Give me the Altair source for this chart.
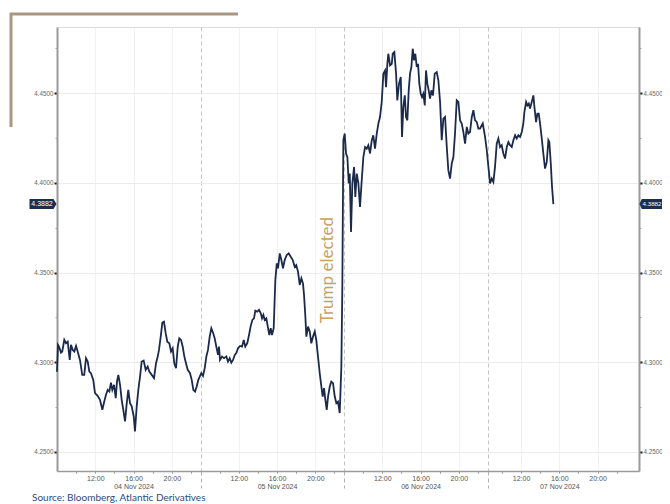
import altair as alt
import pandas as pd

# (trading-hour index, yield) pairs; hour 0 = 04 Nov 08:00, each session 15 h
session_04 = [
    (0.00, 4.2947), (0.10, 4.3097), (0.21, 4.3087), (0.42, 4.3054), (0.55, 4.3060), (0.76, 4.3125),
    (0.94, 4.3106), (1.12, 4.3115), (1.33, 4.3013), (1.46, 4.3097), (1.64, 4.3069), (1.81, 4.3060),
    (1.99, 4.3091), (2.16, 4.3060), (2.40, 4.3013), (2.64, 4.2930), (2.85, 4.2930), (3.03, 4.3023),
    (3.21, 4.3004), (3.38, 4.2948), (3.55, 4.2939), (3.79, 4.2902), (3.97, 4.2828), (4.25, 4.2813),
    (4.49, 4.2791), (4.74, 4.2735), (4.94, 4.2781), (5.12, 4.2819), (5.30, 4.2846), (5.47, 4.2837),
    (5.64, 4.2887), (5.78, 4.2846), (5.96, 4.2874), (6.14, 4.2800), (6.27, 4.2892), (6.41, 4.2930),
    (6.59, 4.2874), (6.76, 4.2791), (6.93, 4.2735), (7.11, 4.2670), (7.29, 4.2772), (7.45, 4.2846),
    (7.63, 4.2772), (7.81, 4.2754), (8.02, 4.2698), (8.15, 4.2614), (8.33, 4.2754), (8.50, 4.2846),
    (8.68, 4.2920), (8.85, 4.3004), (9.06, 4.3010), (9.27, 4.2958), (9.48, 4.2976), (9.65, 4.2948),
    (9.90, 4.2930), (10.14, 4.2912), (10.35, 4.2995), (10.53, 4.3032), (10.66, 4.3069), (10.84, 4.3143),
    (11.01, 4.3221), (11.18, 4.3226), (11.36, 4.3162), (11.53, 4.3115), (11.74, 4.3106), (11.92, 4.3060),
    (12.09, 4.3078), (12.26, 4.2995), (12.44, 4.2967), (12.62, 4.3087), (12.78, 4.3134), (12.96, 4.3125),
    (13.14, 4.3087), (13.31, 4.3032), (13.48, 4.2995), (13.66, 4.2958), (13.90, 4.2939), (14.08, 4.2902),
    (14.25, 4.2846), (14.43, 4.2837), (14.60, 4.2865), (14.77, 4.2902), (14.92, 4.2920),
]
session_05 = [
    (15.08, 4.2939), (15.26, 4.2924), (15.44, 4.2967), (15.61, 4.3032), (15.78, 4.3069), (15.96, 4.3143),
    (16.13, 4.3190), (16.31, 4.3165), (16.48, 4.3134), (16.65, 4.3087), (16.83, 4.3041), (16.93, 4.3087),
    (17.04, 4.3013), (17.25, 4.3032), (17.46, 4.3023), (17.70, 4.3032), (17.87, 4.3004), (18.05, 4.3023),
    (18.22, 4.2998), (18.40, 4.3013), (18.58, 4.3041), (18.74, 4.3051), (18.92, 4.3078), (19.13, 4.3091),
    (19.34, 4.3087), (19.52, 4.3125), (19.68, 4.3087), (19.89, 4.3106), (20.07, 4.3152), (20.25, 4.3203),
    (20.42, 4.3236), (20.59, 4.3245), (20.73, 4.3288), (20.94, 4.3282), (21.12, 4.3292), (21.30, 4.3273),
    (21.43, 4.3245), (21.57, 4.3264), (21.71, 4.3236), (21.88, 4.3245), (22.06, 4.3190), (22.19, 4.3152),
    (22.34, 4.3190), (22.47, 4.3152), (22.65, 4.3190), (22.82, 4.3459), (22.97, 4.3551), (23.10, 4.3524),
    (23.28, 4.3607), (23.45, 4.3570), (23.62, 4.3524), (23.80, 4.3570), (24.01, 4.3598), (24.22, 4.3607),
    (24.43, 4.3588), (24.64, 4.3570), (24.85, 4.3532), (25.01, 4.3542), (25.19, 4.3505), (25.37, 4.3431),
    (25.54, 4.3468), (25.71, 4.3440), (25.82, 4.3375), (25.96, 4.3254), (26.06, 4.3143), (26.24, 4.3199),
    (26.42, 4.3171), (26.58, 4.3106), (26.76, 4.3143), (26.94, 4.3171), (27.10, 4.3125), (27.28, 4.3032),
    (27.46, 4.2939), (27.63, 4.2865), (27.77, 4.2809), (27.91, 4.2856), (28.05, 4.2791), (28.19, 4.2735),
    (28.33, 4.2809), (28.51, 4.2865), (28.67, 4.2892), (28.85, 4.2884), (29.03, 4.2809), (29.20, 4.2772),
    (29.37, 4.2781), (29.55, 4.2717), (29.72, 4.2976), (29.82, 4.3403), (29.93, 4.4238),
]
session_06 = [
    (30.07, 4.4275), (30.21, 4.4164), (30.35, 4.4144), (30.49, 4.3997), (30.60, 4.4052), (30.73, 4.3727),
    (30.87, 4.3997), (31.05, 4.4089), (31.18, 4.3922), (31.33, 4.4052), (31.50, 4.3997), (31.67, 4.3866),
    (31.85, 4.4015), (32.02, 4.4144), (32.20, 4.4200), (32.37, 4.4191), (32.54, 4.4210), (32.72, 4.4164),
    (32.90, 4.4238), (33.06, 4.4265), (33.24, 4.4191), (33.42, 4.4275), (33.59, 4.4331), (33.76, 4.4367),
    (33.94, 4.4451), (34.11, 4.4609), (34.29, 4.4627), (34.39, 4.4534), (34.53, 4.4664), (34.63, 4.4720),
    (34.81, 4.4655), (34.99, 4.4664), (35.09, 4.4720), (35.26, 4.4729), (35.44, 4.4609), (35.57, 4.4460),
    (35.75, 4.4553), (35.93, 4.4590), (36.06, 4.4256), (36.20, 4.4423), (36.35, 4.4488), (36.48, 4.4367),
    (36.62, 4.4349), (36.76, 4.4516), (36.90, 4.4609), (37.04, 4.4646), (37.18, 4.4748), (37.32, 4.4683),
    (37.45, 4.4720), (37.60, 4.4646), (37.74, 4.4664), (37.87, 4.4553), (38.02, 4.4497), (38.15, 4.4479),
    (38.29, 4.4497), (38.44, 4.4432), (38.57, 4.4627), (38.71, 4.4553), (38.85, 4.4516), (38.99, 4.4470),
    (39.13, 4.4516), (39.30, 4.4488), (39.48, 4.4609), (39.69, 4.4618), (39.86, 4.4572), (40.04, 4.4451),
    (40.21, 4.4238), (40.38, 4.4358), (40.56, 4.4367), (40.74, 4.4200), (40.90, 4.4071), (41.08, 4.4024),
    (41.26, 4.4108), (41.43, 4.4144), (41.60, 4.4275), (41.78, 4.4460), (41.95, 4.4451), (42.13, 4.4349),
    (42.30, 4.4331), (42.47, 4.4284), (42.65, 4.4219), (42.83, 4.4312), (42.99, 4.4275), (43.17, 4.4284),
    (43.35, 4.4367), (43.52, 4.4405), (43.69, 4.4349), (43.87, 4.4340), (44.04, 4.4303), (44.21, 4.4303),
    (44.50, 4.4331), (44.74, 4.4256), (44.92, 4.4182),
]
session_07 = [
    (45.09, 4.4089), (45.26, 4.3997), (45.44, 4.4024), (45.61, 4.4005), (45.78, 4.4089), (45.96, 4.4219),
    (46.13, 4.4247), (46.31, 4.4200), (46.48, 4.4210), (46.65, 4.4164), (46.83, 4.4136), (47.01, 4.4200),
    (47.18, 4.4228), (47.35, 4.4210), (47.53, 4.4200), (47.70, 4.4238), (47.88, 4.4265), (48.05, 4.4247),
    (48.22, 4.4265), (48.40, 4.4256), (48.58, 4.4284), (48.74, 4.4331), (48.85, 4.4395), (49.03, 4.4451),
    (49.16, 4.4432), (49.31, 4.4442), (49.44, 4.4414), (49.62, 4.4451), (49.79, 4.4488), (49.90, 4.4423),
    (50.07, 4.4339), (50.21, 4.4386), (50.35, 4.4386), (50.49, 4.4331), (50.67, 4.4247), (50.83, 4.4164),
    (51.01, 4.4080), (51.19, 4.4117), (51.36, 4.4238), (51.46, 4.4228), (51.61, 4.4108), (51.74, 4.3978),
    (51.88, 4.3882),
]

day_names = ["04 Nov 2024", "05 Nov 2024", "06 Nov 2024", "07 Nov 2024"]
time_labels = ["12:00", "16:00", "20:00"]
label_hours = [[4, 8, 12], [19, 23, 27], [34, 38, 42], [48.5, 52.5, 56.5]]
minor_hours = [2, 6, 10, 14, 17, 21, 25, 29, 32, 36, 40, 44, 46.5, 50.5, 54.5, 58.5]
day_breaks = [15, 30, 45]
x_end = 60.83
y_low, y_high = 4.2394, 4.4869
y_major = [4.25, 4.30, 4.35, 4.40, 4.45]
y_minor = [4.275, 4.325, 4.375, 4.425, 4.475]
last_value = "4.3882"
note_text = "Trump elected"
note_hour, note_value = 28.3, 4.3514
source_text = "Source: Bloomberg, Atlantic Derivatives"

rows = [{"t": t, "v": v} for s in (session_04, session_05, session_06, session_07) for t, v in s]
df = pd.DataFrame(rows)
last_df = pd.DataFrame({"v": [rows[-1]["v"]], "label": [last_value]})
note_df = pd.DataFrame({"t": [note_hour], "v": [note_value], "label": [note_text]})
one_df = pd.DataFrame({"a": [0]})

# x-axis label expression built from the label arrays
parts = []
for d, hrs in enumerate(label_hours):
    for i, h in enumerate(hrs):
        lab = f"['{time_labels[i]}', '{day_names[d]}']" if i == 1 else f"'{time_labels[i]}'"
        parts.append(f"datum.value == {h} ? {lab}")
x_label_expr = " : ".join(parts) + " : ''"
all_label_hours = [h for hrs in label_hours for h in hrs]
is_day = f"indexof({day_breaks}, datum.value) >= 0"
is_minor = f"indexof({minor_hours}, datum.value) >= 0"
x_values = sorted(all_label_hours + minor_hours + day_breaks)

xscale = alt.Scale(domain=[0, x_end], nice=False, zero=False)
yscale = alt.Scale(domain=[y_low, y_high], nice=False, zero=False)

x_axis = alt.Axis(
    values=x_values, labelExpr=x_label_expr, labelOverlap=False, labelFlush=False,
    labelFontSize=7, labelColor="#555555", labelFont="Liberation Sans", labelPadding=1,
    labelLineHeight=8.5, title=None, domainColor="#9a9a9a", domainWidth=1.5,
    tickSize={"condition": {"test": is_day, "value": 17}, "value": 2},
    tickColor={"condition": {"test": is_day, "value": "#b0b0b0"}, "value": "#777777"},
    tickDash={"condition": {"test": is_day, "value": [4, 3]}, "value": [1, 0]},
    grid=True,
    gridColor={"condition": {"test": is_day, "value": "#c4c4c4"}, "value": "#ececec"},
    gridDash={"condition": {"test": is_day, "value": [4, 3]}, "value": [1, 0]},
    gridOpacity={"condition": {"test": is_minor, "value": 0}, "value": 1},
)

major_test = "abs(datum.value * 20 - round(datum.value * 20)) < 0.001"
y_label_expr = f"{major_test} ? format(datum.value, '.4f') : ''"


def y_axis(orient, grid):
    return alt.Axis(
        orient=orient, values=sorted(y_major + y_minor), labelExpr=y_label_expr,
        labelOverlap=False, labelFontSize=6.3, labelColor="#666666", labelFont="Liberation Sans",
        labelPadding=1, title=None, domainColor="#9a9a9a", domainWidth=2,
        tickSize={"condition": {"test": major_test, "value": 3}, "value": 2},
        tickWidth={"condition": {"test": major_test, "value": 2}, "value": 1},
        tickColor={"condition": {"test": major_test, "value": "#222222"}, "value": "#aaaaaa"},
        grid=grid, gridColor="#ececec",
        gridOpacity={"condition": {"test": major_test, "value": 1}, "value": 0},
    )


line = alt.Chart(df).mark_line(color="#1b2a4a", strokeWidth=1.8).encode(
    x=alt.X("t:Q", scale=xscale, axis=x_axis),
    y=alt.Y("v:Q", scale=yscale, axis=y_axis("left", True)),
)

left_shape = "M -1 -0.37 L 0.78 -0.37 L 1 0 L 0.78 0.37 L -1 0.37 Z"
right_shape = "M 1 -0.43 L -0.8 -0.43 L -1 0 L -0.8 0.43 L 1 0.43 Z"

left_tag = alt.Chart(last_df).mark_point(shape=left_shape, size=729, filled=True, opacity=1,
                                         color="#1c2d50", strokeWidth=0).encode(
    x=alt.value(-14), y=alt.Y("v:Q", scale=yscale, axis=None))
left_tag_text = alt.Chart(last_df).mark_text(color="white", fontSize=7, font="Liberation Sans",
                                             align="center", baseline="middle").encode(
    x=alt.value(-15), y=alt.Y("v:Q", scale=yscale, axis=None), text="label:N")
right_tag = alt.Chart(last_df).mark_point(shape=right_shape, size=529, filled=True, opacity=1,
                                          color="#1c2d50", strokeWidth=0).encode(
    x=alt.value(594), y=alt.Y("v:Q", scale=yscale, axis=y_axis("right", False)))
right_tag_text = alt.Chart(last_df).mark_text(color="white", fontSize=6.2, font="Liberation Sans",
                                              align="center", baseline="middle").encode(
    x=alt.value(595), y=alt.Y("v:Q", scale=yscale, axis=None), text="label:N")

note = alt.Chart(note_df).mark_text(angle=270, color="#c9a063", fontSize=17, font="Lato",
                                    align="center", baseline="middle").encode(
    x=alt.X("t:Q", scale=xscale, axis=x_axis),
    y=alt.Y("v:Q", scale=yscale, axis=None), text="label:N")

source = alt.Chart(one_df).mark_text(align="left", baseline="middle", fontSize=10, font="Lato",
                                     color="#2e4a7d").encode(
    x=alt.value(-25), y=alt.value(471), text=alt.value(source_text))

frame_h = alt.Chart(one_df).mark_rule(color="#a89781", strokeWidth=3).encode(
    x=alt.value(-47), x2=alt.value(181), y=alt.value(-13))
frame_v = alt.Chart(one_df).mark_rule(color="#a89781", strokeWidth=3).encode(
    x=alt.value(-46), y=alt.value(-14), y2=alt.value(100))

chart = alt.layer(
    line, left_tag, left_tag_text, right_tag, right_tag_text, note, source, frame_h, frame_v
).resolve_axis(y="independent").properties(
    width=582, height=444,
    padding={"left": 49, "top": 19, "right": 23, "bottom": 33},
    autosize=alt.AutoSizeParams(type="none"),
).configure_view(stroke=None).configure(background="white")

chart.save("out.html", embed_options={"renderer": "svg", "actions": False})
